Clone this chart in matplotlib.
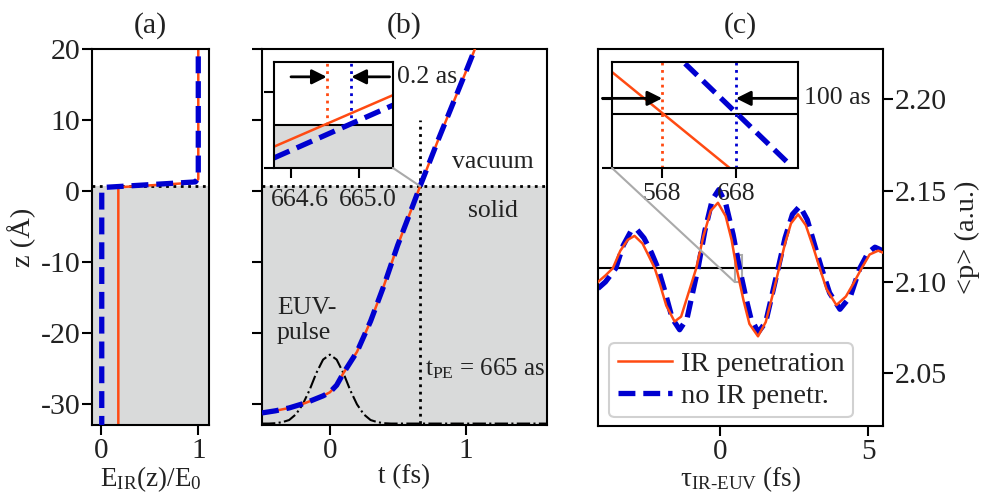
import numpy as np
import matplotlib
matplotlib.use('Agg')
import matplotlib.pyplot as plt
import matplotlib.transforms as mtransforms
from matplotlib.patches import ConnectionPatch, Rectangle

# colours / style
ORANGE = '#ff4a12'
BLUE = '#0000d0'
GRAY = '#d9dada'
CONN = '#aaaaaa'
DASH = (3.2, 1.5)

# ---- panel (a): field profile E_IR(z)/E0 ----
z_surface = 0.7
field_pen = [0.18, 0.18, 0.97, 1.0, 1.0]
z_pen = [-34, 0.55, 1.2, 1.7, 21]
field_nopen = [0.01, 0.01, 0.06, 0.97, 1.0, 1.0]
z_nopen = [-34, 0.0, 0.55, 1.3, 1.8, 21]

# ---- panel (b): photoelectron trajectory z(t) ----
t_traj = [-0.5, -0.4, -0.3, -0.18, -0.05, 0.0, 0.05, 0.1, 0.2, 0.3, 0.4, 0.5,
          0.6, 0.665, 0.8, 0.9, 1.0, 1.1]
z_traj = [-31.2, -30.9, -30.5, -29.8, -28.8, -28.3, -27.3, -25.6, -22.6, -18.3,
          -13.2, -7.6, -2.6, 0.7, 7.3, 12.0, 16.7, 21.5]
t_pulse = [-0.5, -0.45, -0.4, -0.35, -0.3, -0.25, -0.2, -0.15, -0.1, -0.05, 0.0,
           0.05, 0.1, 0.15, 0.2, 0.25, 0.3, 0.35, 0.4, 0.45, 0.5, 1.6]
z_pulse = [-32.7, -32.7, -32.65, -32.5, -32.2, -31.4, -30.0, -28.0, -25.6, -23.7,
           -23.0, -23.7, -25.6, -28.0, -30.0, -31.4, -32.2, -32.5, -32.65, -32.7,
           -32.7, -32.7]
t_pe = 0.665

# inset (b), t in as
ins_b_t = [664.5, 665.2]
ins_b_pen = [0.6837, 0.7226]
ins_b_nopen = [0.6752, 0.7150]
ins_b_cross_pen = 664.81
ins_b_cross_nopen = 664.955
ins_b_ylim = (0.6676, 0.7476)

# ---- panel (c): <p> vs delay ----
tau_pen = [-4.1, -3.85, -3.6, -3.35, -3.1, -2.87, -2.6, -2.4, -2.19, -2.0, -1.8,
           -1.52, -1.3, -1.05, -0.79, -0.55, -0.3, -0.06, 0.2, 0.4, 0.568, 0.8,
           1.0, 1.29, 1.55, 1.8, 2.0, 2.2, 2.4, 2.64, 2.9, 3.15, 3.37, 3.6, 3.93,
           4.25, 4.5, 4.78, 5.05, 5.34, 5.5]
p_pen = [2.100, 2.1035, 2.1075, 2.117, 2.123, 2.1252, 2.121, 2.1145, 2.1075,
         2.098, 2.087, 2.0783, 2.081, 2.094, 2.1075, 2.125, 2.139, 2.1433, 2.136,
         2.123, 2.1075, 2.090, 2.077, 2.0702, 2.078, 2.094, 2.1075, 2.121, 2.132,
         2.137, 2.131, 2.119, 2.1075, 2.096, 2.0873, 2.092, 2.099, 2.1075, 2.115,
         2.1171, 2.116]
tau_nopen = [-4.1, -3.85, -3.5, -3.25, -3.0, -2.8, -2.55, -2.3, -2.08, -1.85,
             -1.6, -1.35, -1.1, -0.9, -0.73, -0.5, -0.25, -0.03, 0.2, 0.45, 0.668,
             0.9, 1.05, 1.3, 1.55, 1.75, 1.97, 2.2, 2.45, 2.7, 2.95, 3.2, 3.43,
             3.7, 4.05, 4.4, 4.72, 5.0, 5.23, 5.5]
p_nopen = [2.0964, 2.100, 2.1075, 2.120, 2.1275, 2.1289, 2.124, 2.116, 2.1075,
           2.095, 2.080, 2.0738, 2.080, 2.095, 2.1075, 2.128, 2.145, 2.1505, 2.143,
           2.126, 2.1075, 2.090, 2.080, 2.0724, 2.078, 2.092, 2.1075, 2.124, 2.137,
           2.1415, 2.134, 2.120, 2.1075, 2.094, 2.0850, 2.092, 2.1075, 2.116,
           2.119, 2.117]
p_ref = 2.1075

# inset (c), tau in as
ins_c_t_pen = [500, 660]
ins_c_pen = [2.1134, 2.09995]
ins_c_t_nopen = [599, 741]
ins_c_nopen = [2.11458, 2.10046]
ins_c_xlim = (500, 752)
ins_c_ylim = (2.100, 2.1148)

plt.rcParams['font.family'] = ['Liberation Serif', 'DejaVu Serif']
plt.rcParams['mathtext.fontset'] = 'custom'
plt.rcParams['mathtext.rm'] = 'Liberation Serif'
plt.rcParams['mathtext.it'] = 'Liberation Serif:italic'
plt.rcParams['axes.unicode_minus'] = False
plt.rcParams['font.size'] = 18.5
plt.rcParams['xtick.labelsize'] = 21
plt.rcParams['ytick.labelsize'] = 21.5
plt.rcParams['axes.labelsize'] = 20.5
plt.rcParams['axes.titlesize'] = 21.5
plt.rcParams['text.color'] = '#222222'
plt.rcParams['axes.labelcolor'] = '#222222'
plt.rcParams['axes.linewidth'] = 1.5
plt.rcParams['xtick.major.width'] = 1.5
plt.rcParams['ytick.major.width'] = 1.5
plt.rcParams['xtick.major.size'] = 7
plt.rcParams['ytick.major.size'] = 7
plt.rcParams['xtick.major.pad'] = 2.5
plt.rcParams['ytick.major.pad'] = 1.5
plt.rcParams['xtick.labelcolor'] = '#222222'
plt.rcParams['ytick.labelcolor'] = '#222222'

W, H = 988, 496
fig = plt.figure(figsize=(W / 100, H / 100), dpi=100)


def frac(x0, y0, x1, y1):
    return [x0 / W, 1 - y1 / H, (x1 - x0) / W, (y1 - y0) / H]


ax_a = fig.add_axes(frac(92, 49, 209, 425))
ax_b = fig.add_axes(frac(262, 49, 547, 425))
ax_c = fig.add_axes(frac(598, 49, 883, 426))

ylim_z = (-32.9, 20)
XLAB = 19.5

# (a)
ax_a.axhspan(-40, z_surface, color=GRAY, lw=0, zorder=0)
ax_a.axhline(z_surface, color='k', ls=':', lw=2, zorder=1)
ax_a.plot(field_pen, z_pen, color=ORANGE, lw=1.8, zorder=2)
ax_a.plot(field_nopen, z_nopen, color=BLUE, lw=3.8, ls='--', dashes=DASH, zorder=3)
ax_a.set_xlim(-0.09, 1.11)
ax_a.set_ylim(*ylim_z)
ax_a.set_xticks([0, 1])
ax_a.set_yticks([-30, -20, -10, 0, 10, 20])
ax_a.set_ylabel('z (Å)', labelpad=3)
ax_a.set_xlabel(r'$\mathrm{E_{IR}(z)/E_0}$', labelpad=0, fontsize=XLAB)
ax_a.set_title('(a)', pad=12)

# (b)
ax_b.axhspan(-40, z_surface, color=GRAY, lw=0, zorder=0)
ax_b.axhline(z_surface, color='k', ls=':', lw=2, zorder=1)
ax_b.plot([t_pe, t_pe], [-40, 10], color='k', ls=':', lw=2, zorder=1)
ax_b.plot(t_pulse, z_pulse, color='k', ls='-.', lw=1.5, zorder=2)
ax_b.plot(t_traj, z_traj, color=ORANGE, lw=1.8, zorder=3)
ax_b.plot(t_traj, z_traj, color=BLUE, lw=3.8, ls='--', dashes=DASH, zorder=4)
ax_b.set_xlim(-0.5, 1.6)
ax_b.set_ylim(*ylim_z)
ax_b.set_xticks([0, 1])
ax_b.set_yticks([-30, -20, -10, 0, 10, 20])
ax_b.set_yticklabels([])
ax_b.set_xlabel('t (fs)', labelpad=0, fontsize=XLAB)
ax_b.set_title('(b)', pad=12)
ax_b.text(1.2, 4.1, 'vacuum', ha='center', va='center')
ax_b.text(1.2, -2.75, 'solid', ha='center', va='center')
ax_b.text(-0.39, -18.2, 'EUV-\npulse', ha='left', va='center', linespacing=1.15)
ax_b.text(0.70, -25, r'$\mathrm{t_{PE}}$ = 665 as', ha='left', va='center', fontsize=18)

ins_b = fig.add_axes(frac(274, 62, 393, 168))
ins_b.axhspan(ins_b_ylim[0] - 1, z_surface, color=GRAY, lw=0, zorder=0)
ins_b.axhline(z_surface, color='k', lw=1.5, zorder=1)
ins_b.plot([ins_b_cross_pen] * 2, [z_surface, 1], color=ORANGE, ls=':', lw=2)
ins_b.plot([ins_b_cross_nopen] * 2, [z_surface, 1], color=BLUE, ls=':', lw=2)
ins_b.plot(ins_b_t, ins_b_pen, color=ORANGE, lw=1.8)
ins_b.plot(ins_b_t, ins_b_nopen, color=BLUE, lw=3.8, ls='--', dashes=DASH)
ins_b.set_xlim(ins_b_t)
ins_b.set_ylim(*ins_b_ylim)
ins_b.set_xticks([664.6, 665.0])
ins_b.set_xticklabels(['664.6', '665.0'], fontsize=18.5)
ins_b.tick_params(axis='x', pad=8)
shift = mtransforms.ScaledTranslation(9 / 100, 0, fig.dpi_scale_trans)
for lab in ins_b.get_xticklabels():
    lab.set_transform(lab.get_transform() + shift)
ins_b.set_yticks([ins_b_ylim[0], 0.725])
ins_b.set_yticklabels([])
arrow_kw = dict(arrowstyle='-|>', color='k', lw=2, mutation_scale=22, shrinkA=0, shrinkB=0)
ins_b.annotate('', xy=(ins_b_cross_pen, 0.86), xytext=(664.6, 0.86),
               xycoords=('data', 'axes fraction'), arrowprops=arrow_kw)
ins_b.annotate('', xy=(ins_b_cross_nopen, 0.86), xytext=(665.18, 0.86),
               xycoords=('data', 'axes fraction'), arrowprops=arrow_kw)
ins_b.text(1.03, 0.86, '0.2 as', transform=ins_b.transAxes, ha='left', va='center')
con_b = ConnectionPatch(xyA=(1, 0), coordsA=ins_b.transAxes,
                        xyB=(t_pe, z_surface), coordsB=ax_b.transData,
                        color=CONN, lw=1.5)
fig.add_artist(con_b)

# (c)
ax_c.axhline(p_ref, color='k', lw=1.5, zorder=1)
ax_c.plot(tau_pen, p_pen, color=ORANGE, lw=1.8, zorder=3, label='IR penetration')
ax_c.plot(tau_nopen, p_nopen, color=BLUE, lw=3.8, ls='--', dashes=DASH, zorder=2,
          label='no IR penetr.')
ax_c.add_patch(Rectangle((ins_c_xlim[0] / 1000, ins_c_ylim[0]),
                         (ins_c_xlim[1] - ins_c_xlim[0]) / 1000,
                         ins_c_ylim[1] - ins_c_ylim[0],
                         fill=False, edgecolor=CONN, lw=1.5, zorder=1))
ax_c.set_xlim(-4.1, 5.5)
ax_c.set_ylim(2.0211, 2.2275)
ax_c.set_xticks([0, 5])
ax_c.set_yticks([2.05, 2.10, 2.15, 2.20])
ax_c.yaxis.tick_right()
ax_c.yaxis.set_label_position('right')
ax_c.set_ylabel('<p> (a.u.)', labelpad=6)
ax_c.set_xlabel(r'τ$_{\mathrm{IR\text{-}EUV}}$ (fs)', labelpad=-1, fontsize=XLAB)
ax_c.set_title('(c)', pad=12)
leg = ax_c.legend(loc='lower left', bbox_to_anchor=(0.01, 0.0), fancybox=True,
                  framealpha=1, edgecolor='0.82', handlelength=1.9,
                  borderpad=0.3, labelspacing=0.2, handletextpad=0.3,
                  borderaxespad=0.3, fontsize=20.5)
leg.get_frame().set_linewidth(1.5)

ins_c = fig.add_axes(frac(612, 62, 798, 168))
ins_c.axhline(p_ref, color='k', lw=1.5, zorder=1)
ins_c.axvline(568, color=ORANGE, ls=':', lw=2)
ins_c.axvline(668, color=BLUE, ls=':', lw=2)
ins_c.plot(ins_c_t_pen, ins_c_pen, color=ORANGE, lw=1.8)
ins_c.plot(ins_c_t_nopen, ins_c_nopen, color=BLUE, lw=3.8, ls='--', dashes=DASH)
ins_c.set_xlim(*ins_c_xlim)
ins_c.set_ylim(*ins_c_ylim)
ins_c.set_xticks([568, 668])
ins_c.set_xticklabels(['568', '668'], fontsize=18.5)
ins_c.tick_params(axis='x', pad=3.5)
ins_c.set_yticks([ins_c_ylim[0], 2.1097])
ins_c.set_yticklabels([])
ins_c.annotate('', xy=(568, 0.657), xytext=(487, 0.657),
               xycoords=('data', 'axes fraction'), arrowprops=arrow_kw,
               annotation_clip=False)
ins_c.annotate('', xy=(668, 0.657), xytext=(750, 0.657),
               xycoords=('data', 'axes fraction'), arrowprops=arrow_kw)
ins_c.text(1.03, 0.657, '100 as', transform=ins_c.transAxes, ha='left', va='center')
con_c = ConnectionPatch(xyA=(0, 0), coordsA=ins_c.transAxes,
                        xyB=(ins_c_xlim[0] / 1000, ins_c_ylim[0]), coordsB=ax_c.transData,
                        color=CONN, lw=1.5)
fig.add_artist(con_c)

fig.savefig('out.png', dpi=100)
